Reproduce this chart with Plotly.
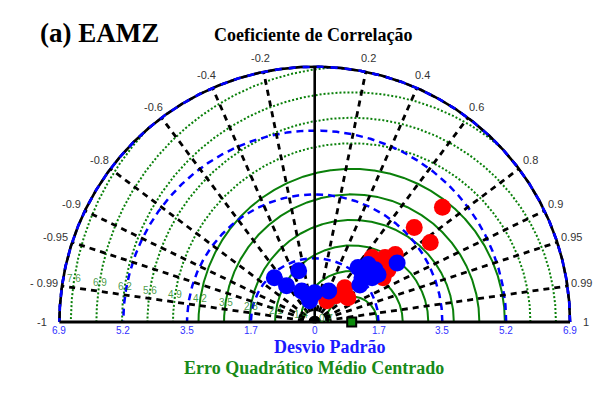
import numpy as np
import plotly.graph_objects as go

# ---------------- data ----------------
red_std = [4.64, 3.71, 3.79, 2.84, 2.58, 2.20, 2.33, 2.43, 1.23, 1.11, 0.66, 0.91]
red_corr = [0.744, 0.725, 0.824, 0.767, 0.737, 0.84, 0.665, 0.815, 0.66, 0.809, 0.496, 0.628]

blue_std = [2.74, 1.88, 2.12, 2.16, 1.75, 1.96, 1.58, 2.14, 1.62, 1.45, 1.24, 0.91, 0.59, 0.92, 0.79, 0.73]
blue_corr = [0.813, 0.623, 0.681, 0.756, 0.73, 0.791, 0.773, 0.80, -0.673, -0.299, -0.614, -0.387,
             -0.232, 0.411, 0.0, -0.26]

ref_std = 1.0
std_max = 6.9
std_ticks = [1.725, 3.45, 5.175, 6.9]
std_tick_labels = ["1.7", "3.5", "5.2", "6.9"]

corr_ticks = [-1, -0.99, -0.95, -0.9, -0.8, -0.6, -0.4, -0.2, 0, 0.2, 0.4, 0.6, 0.8, 0.9, 0.95, 0.99, 1]
corr_labels = ["-1", "- 0.99", "-0.95", "-0.9", "-0.8", "-0.6", "-0.4", "-0.2", "0",
               "0.2", "0.4", "0.6", "0.8", "0.9", "0.95", "0.99", "1"]

rms_levels = [0.69, 1.38, 2.07, 2.76, 3.45, 4.14, 4.83, 5.52, 6.21, 6.9, 7.59]
rms_labels = ["0.7", "1.4", "2.1", "2.8", "3.5", "4.2", "4.9", "5.6", "6.2", "6.9", "7.6"]
rms_solid_max = 4.2

# ---------------- geometry / layout ----------------
W, H = 597, 395
cx_px, base_px, scale = 314.7, 322.0, 37.0
L, R_, T, B = 39, 6, 54, 62
plot_w, plot_h = W - L - R_, H - T - B
x_min = (L - cx_px) / scale
x_max = x_min + plot_w / scale
y_min = -(H - B - base_px) / scale
y_max = y_min + plot_h / scale

GREEN = "#0a800a"
BLUE = "#0000ff"

def to_xy(std, corr):
    s = np.asarray(std, float)
    c = np.asarray(corr, float)
    return s * c, s * np.sqrt(1 - c ** 2)

fig = go.Figure()

# RMS circles (centred on reference), clipped to the semicircle
t = np.linspace(0, np.pi, 900)
for r in rms_levels:
    x = ref_std + r * np.cos(t)
    y = r * np.sin(t)
    inside = x ** 2 + y ** 2 <= std_max ** 2 + 1e-9
    xs = np.where(inside, x, np.nan)
    ys = np.where(inside, y, np.nan)
    fig.add_trace(go.Scatter(x=xs, y=ys, mode="lines", hoverinfo="skip", showlegend=False,
                             connectgaps=False,
                             line=dict(color=GREEN, width=2,
                                       dash="solid" if r <= rms_solid_max else "2px,2px")))

# std circles (blue dashed)
for s in std_ticks:
    fig.add_trace(go.Scatter(x=s * np.cos(t), y=s * np.sin(t), mode="lines", hoverinfo="skip",
                             showlegend=False, line=dict(color=BLUE, width=2.5, dash="7px,5px")))

# correlation radial lines
for c in corr_ticks:
    if abs(c) in (0, 1):
        continue
    ex, ey = to_xy(std_max, c)
    fig.add_trace(go.Scatter(x=[0, float(ex)], y=[0, float(ey)], mode="lines", hoverinfo="skip",
                             showlegend=False, line=dict(color="black", width=2.8, dash="6px,5px")))

# outer arc: black solid + blue dashes
fig.add_trace(go.Scatter(x=std_max * np.cos(t), y=std_max * np.sin(t), mode="lines", hoverinfo="skip",
                         showlegend=False, line=dict(color="black", width=2.6)))
fig.add_trace(go.Scatter(x=std_max * np.cos(t), y=std_max * np.sin(t), mode="lines", hoverinfo="skip",
                         showlegend=False, line=dict(color=BLUE, width=2.6, dash="7px,7px")))

# axes lines
fig.add_trace(go.Scatter(x=[-std_max, std_max], y=[0, 0], mode="lines", hoverinfo="skip",
                         showlegend=False, line=dict(color="black", width=3)))
fig.add_trace(go.Scatter(x=[0, 0], y=[0, std_max], mode="lines", hoverinfo="skip",
                         showlegend=False, line=dict(color="black", width=2.6)))

# data points
rx, ry = to_xy(red_std, red_corr)
fig.add_trace(go.Scatter(x=rx, y=ry, mode="markers", showlegend=False, cliponaxis=False,
                         marker=dict(color="#ff0000", size=17, line=dict(width=0))))
bx, by = to_xy(blue_std, blue_corr)
fig.add_trace(go.Scatter(x=bx, y=by, mode="markers", showlegend=False, cliponaxis=False,
                         marker=dict(color="#0000ff", size=17, line=dict(width=0))))

# reference point
fig.add_trace(go.Scatter(x=[ref_std], y=[0], mode="markers", showlegend=False, cliponaxis=False,
                         marker=dict(symbol="square", color="#0a8a0a", size=9,
                                     line=dict(color="black", width=2))))

ann = []
sans = "Liberation Sans, Arial, sans-serif"
serif = "Liberation Serif, Times New Roman, serif"

# std tick labels
for s, lab in zip(std_ticks, std_tick_labels):
    for sgn in (-1, 1):
        ann.append(dict(x=sgn * s, y=0, text=lab, showarrow=False, xanchor="center", yanchor="middle",
                        yshift=-8.5, font=dict(family=sans, size=10, color="#3030ff")))
ann.append(dict(x=0, y=0, text="0", showarrow=False, xanchor="center", yanchor="middle",
                yshift=-8.5, font=dict(family=sans, size=10, color="#3030ff")))

# rms labels
lab_ang = np.deg2rad(171)
for r, lab in zip(rms_levels, rms_labels):
    ann.append(dict(x=ref_std + r * np.cos(lab_ang), y=r * np.sin(lab_ang), text=lab, showarrow=False,
                    xanchor="center", yanchor="middle",
                    font=dict(family=sans, size=10, color="rgba(20,130,20,0.8)")))

# correlation labels
near = {0.9: 6, 0.95: 5, 0.99: 3, 1: 0}
for c, lab in zip(corr_ticks, corr_labels):
    if abs(c) in near:
        px_, py_ = to_xy(6.95, c)
        sgn = 1 if c > 0 else -1
        ann.append(dict(x=float(px_), y=float(py_), text=lab, showarrow=False,
                        xanchor="left" if sgn > 0 else "right", yanchor="middle",
                        yshift=near[abs(c)], xshift=sgn * (9 if abs(c) == 1 else 0),
                        font=dict(family=sans, size=11, color="#333333")))
    else:
        px_, py_ = to_xy(7.28, c)
        ann.append(dict(x=float(px_), y=float(py_), text=lab, showarrow=False,
                        xanchor="center", yanchor="middle",
                        font=dict(family=sans, size=11, color="#333333")))

def pxp(xp, yp):
    return (xp - L) / plot_w, (H - B - yp) / plot_h

x0, y0 = pxp(38, 33.5)
ann.append(dict(xref="paper", yref="paper", x=x0, y=y0, text="<b>(a) EAMZ</b>", showarrow=False,
                xanchor="left", yanchor="middle", font=dict(family=serif, size=27, color="black")))
x0, y0 = pxp(313.5, 35)
ann.append(dict(xref="paper", yref="paper", x=x0, y=y0, text="<b>Coeficiente de Correlação</b>",
                showarrow=False, xanchor="center", yanchor="middle",
                font=dict(family=serif, size=18, color="black")))
x0, y0 = pxp(330, 347)
ann.append(dict(xref="paper", yref="paper", x=x0, y=y0, text="<b>Desvio Padrão</b>",
                showarrow=False, xanchor="center", yanchor="middle",
                font=dict(family=serif, size=18, color="#1a1aff")))
x0, y0 = pxp(313.5, 368)
ann.append(dict(xref="paper", yref="paper", x=x0, y=y0, text="<b>Erro Quadrático Médio Centrado</b>",
                showarrow=False, xanchor="center", yanchor="middle",
                font=dict(family=serif, size=18, color="#188a18")))

fig.update_layout(
    width=W, height=H, margin=dict(l=L, r=R_, t=T, b=B, pad=0),
    paper_bgcolor="white", plot_bgcolor="white",
    xaxis=dict(range=[x_min, x_max], visible=False, fixedrange=True),
    yaxis=dict(range=[y_min, y_max], visible=False, fixedrange=True),
    annotations=ann, showlegend=False,
)

fig.write_html("out.html")
